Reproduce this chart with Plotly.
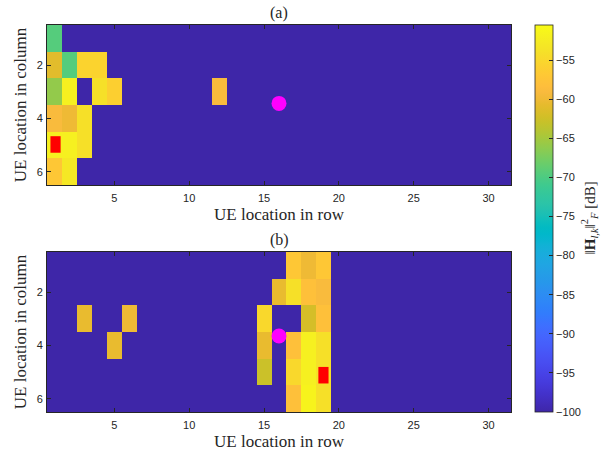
import plotly.graph_objects as go

# ---------------- data ----------------
n_rows = 6
n_cols = 31
background_db = -100.0

# non-background cells: (row, column, value in dB)
cells_a = [
    (1, 1, -69.5),
    (2, 1, -61.0), (2, 2, -69.5), (2, 3, -55.5), (2, 4, -55.5),
    (3, 1, -66.0), (3, 2, -52.0), (3, 4, -54.0), (3, 5, -56.0), (3, 12, -59.0),
    (4, 1, -59.0), (4, 2, -60.0), (4, 3, -54.0),
    (5, 1, -52.0), (5, 2, -52.0), (5, 3, -54.0),
    (6, 1, -57.0), (6, 2, -53.0),
]
cells_b = [
    (1, 17, -57.0), (1, 18, -60.0), (1, 19, -57.0),
    (2, 16, -60.5), (2, 17, -54.0), (2, 18, -58.0), (2, 19, -59.0),
    (3, 3, -60.5), (3, 6, -60.0), (3, 15, -55.0), (3, 18, -62.0), (3, 19, -58.0),
    (4, 5, -60.5), (4, 15, -60.5), (4, 17, -58.0), (4, 18, -52.0), (4, 19, -54.0),
    (5, 15, -62.7), (5, 17, -55.0), (5, 18, -52.0), (5, 19, -54.0),
    (6, 17, -58.0), (6, 18, -51.5), (6, 19, -54.0),
]
bs_a = (16.0, 3.44)      # magenta circle position (row, column)
bs_b = (16.0, 3.65)
red_a = (1.07, 4.98)     # red marker centre
red_b = (18.97, 5.12)

z_min, z_max = -100.0, -50.5
cbar_ticks = [-100, -95, -90, -85, -80, -75, -70, -65, -60, -55]
x_ticks = [5, 10, 15, 20, 25, 30]
y_ticks = [2, 4, 6]

# ---------------- parula colormap (64) ----------------
parula = [
    (0.2422, 0.1504, 0.6603), (0.2504, 0.1650, 0.7076), (0.2578, 0.1818, 0.7511), (0.2647, 0.1978, 0.7952),
    (0.2706, 0.2147, 0.8364), (0.2751, 0.2342, 0.8710), (0.2783, 0.2559, 0.8991), (0.2803, 0.2782, 0.9221),
    (0.2813, 0.3006, 0.9414), (0.2810, 0.3228, 0.9579), (0.2795, 0.3447, 0.9717), (0.2760, 0.3667, 0.9829),
    (0.2699, 0.3892, 0.9906), (0.2602, 0.4123, 0.9952), (0.2440, 0.4358, 0.9988), (0.2206, 0.4603, 0.9973),
    (0.1963, 0.4847, 0.9892), (0.1834, 0.5074, 0.9798), (0.1786, 0.5289, 0.9682), (0.1764, 0.5499, 0.9520),
    (0.1687, 0.5703, 0.9359), (0.1540, 0.5902, 0.9218), (0.1460, 0.6091, 0.9079), (0.1380, 0.6276, 0.8973),
    (0.1248, 0.6459, 0.8883), (0.1113, 0.6635, 0.8763), (0.0952, 0.6798, 0.8598), (0.0689, 0.6948, 0.8394),
    (0.0297, 0.7082, 0.8163), (0.0036, 0.7203, 0.7917), (0.0067, 0.7312, 0.7660), (0.0433, 0.7411, 0.7394),
    (0.0964, 0.7500, 0.7120), (0.1408, 0.7584, 0.6842), (0.1717, 0.7670, 0.6554), (0.1938, 0.7758, 0.6251),
    (0.2161, 0.7843, 0.5923), (0.2470, 0.7918, 0.5567), (0.2906, 0.7973, 0.5188), (0.3406, 0.8008, 0.4789),
    (0.3909, 0.8029, 0.4354), (0.4456, 0.8024, 0.3909), (0.5044, 0.7993, 0.3480), (0.5616, 0.7942, 0.3045),
    (0.6174, 0.7876, 0.2612), (0.6720, 0.7793, 0.2227), (0.7242, 0.7698, 0.1910), (0.7738, 0.7598, 0.1646),
    (0.8203, 0.7498, 0.1535), (0.8634, 0.7406, 0.1596), (0.9035, 0.7330, 0.1774), (0.9393, 0.7288, 0.2100),
    (0.9728, 0.7298, 0.2394), (0.9956, 0.7434, 0.2371), (0.9970, 0.7659, 0.2199), (0.9952, 0.7893, 0.2028),
    (0.9892, 0.8136, 0.1885), (0.9786, 0.8386, 0.1766), (0.9676, 0.8639, 0.1643), (0.9610, 0.8890, 0.1537),
    (0.9597, 0.9135, 0.1423), (0.9628, 0.9373, 0.1265), (0.9691, 0.9606, 0.1064), (0.9769, 0.9839, 0.0805),
]
colorscale = [[i / (len(parula) - 1), "rgb(%d,%d,%d)" % tuple(round(c * 255) for c in p)]
              for i, p in enumerate(parula)]


def build_grid(cells):
    z = [[background_db] * n_cols for _ in range(n_rows)]
    for r, c, v in cells:
        z[r - 1][c - 1] = v
    return z


xs = list(range(1, n_cols + 1))
ys = list(range(1, n_rows + 1))

serif = "Liberation Serif"
sans = "Liberation Sans"
axis_col = "#262626"

fig = go.Figure()
for idx, (cells, bs) in enumerate([(cells_a, bs_a), (cells_b, bs_b)]):
    xa = "x" if idx == 0 else "x2"
    ya = "y" if idx == 0 else "y2"
    fig.add_trace(go.Heatmap(
        x=xs, y=ys, z=build_grid(cells), xaxis=xa, yaxis=ya,
        colorscale=colorscale, zmin=z_min, zmax=z_max,
        showscale=(idx == 0),
        colorbar=dict(
            x=(535 - 47) / 464, xanchor="left", xref="paper", xpad=0,
            y=0, yanchor="bottom", len=1, lenmode="fraction", ypad=0,
            thickness=18, thicknessmode="pixels", outlinewidth=0.8, outlinecolor=axis_col,
            tickvals=cbar_ticks, ticks="inside", ticklen=4, tickcolor=axis_col,
            tickfont=dict(family=sans, size=11, color=axis_col),
        ),
        hoverongaps=False,
    ))
    fig.add_trace(go.Scatter(
        x=[bs[0]], y=[bs[1]], xaxis=xa, yaxis=ya, mode="markers",
        marker=dict(symbol="circle", size=15, color="#FF00FF", line=dict(width=0)),
        showlegend=False,
    ))

half_w, half_h = 0.34, 0.31
for red, xr, yr in [(red_a, "x", "y"), (red_b, "x2", "y2")]:
    fig.add_shape(type="rect", xref=xr, yref=yr,
                  x0=red[0] - half_w, x1=red[0] + half_w, y0=red[1] - half_h, y1=red[1] + half_h,
                  fillcolor="#FF0000", line=dict(width=0), layer="above")

axis_common = dict(showgrid=False, zeroline=False, showline=True, linecolor=axis_col, linewidth=1,
                   mirror="ticks", ticks="inside", ticklen=4, tickcolor=axis_col,
                   tickfont=dict(family=sans, size=11, color=axis_col))

xcommon = dict(axis_common, range=[0.5, 31.5], tickvals=x_ticks, ticklabelstandoff=3,
               title=dict(text="UE location in row", font=dict(family=serif, size=17, color=axis_col), standoff=4))
ycommon = dict(axis_common, range=[6.5, 0.5], tickvals=y_ticks, ticklabelstandoff=1,
               title=dict(text="UE location in column", font=dict(family=serif, size=17, color=axis_col), standoff=5))

top_lo = 1 - 160 / 387
bot_hi = 160 / 387
fig.update_layout(
    width=611, height=452,
    margin=dict(l=47, r=100, t=25, b=40, autoexpand=False),
    paper_bgcolor="white", plot_bgcolor="white",
    showlegend=False,
    xaxis=dict(xcommon, anchor="y", domain=[0, 1]),
    yaxis=dict(ycommon, anchor="x", domain=[top_lo, 1]),
    xaxis2=dict(xcommon, anchor="y2", domain=[0, 1]),
    yaxis2=dict(ycommon, anchor="x2", domain=[0, bot_hi]),
    annotations=[
        dict(text="(a)", x=0.5, y=1, xref="paper", yref="paper", xanchor="center", yanchor="bottom",
             yshift=1, showarrow=False, font=dict(family=serif, size=16, color=axis_col)),
        dict(text="(b)", x=0.5, y=bot_hi, xref="paper", yref="paper", xanchor="center", yanchor="bottom",
             yshift=1, showarrow=False, font=dict(family=serif, size=16, color=axis_col)),
        dict(text="‖<b>H</b><sub><i>l,k</i></sub>‖<sup>2</sup><sub><i>F</i></sub> [dB]",
             x=(589 - 47) / 464, y=0.5, xref="paper", yref="paper", xanchor="center", yanchor="middle",
             textangle=-90, showarrow=False, font=dict(family=serif, size=15, color=axis_col)),
    ],
)

fig.write_html("out.html", config={"displayModeBar": False},
               post_script="document.body.style.margin='0px';")
